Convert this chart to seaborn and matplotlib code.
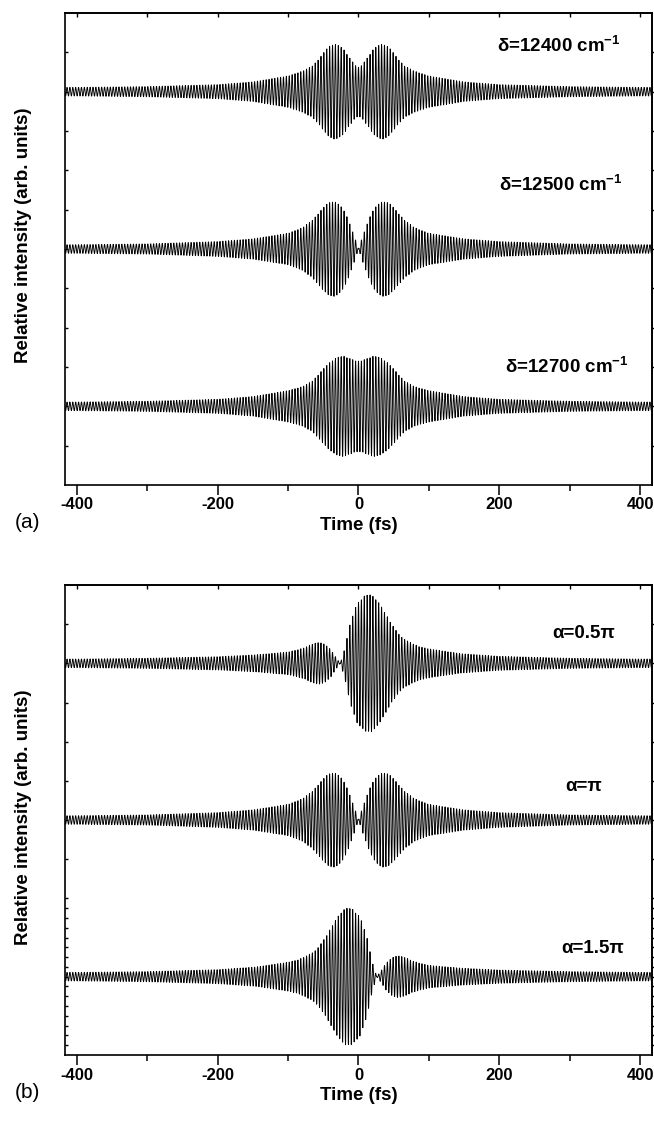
import numpy as np
import matplotlib
matplotlib.use("Agg")
import matplotlib.pyplot as plt
import seaborn as sns

sns.set_theme(style="ticks")
plt.rcParams['font.family'] = ['Liberation Sans', 'DejaVu Sans']
plt.rcParams['mathtext.fontset'] = 'custom'
plt.rcParams['mathtext.rm'] = 'Liberation Sans'
plt.rcParams['mathtext.bf'] = 'Liberation Sans:bold'
for key in ["text.color", "axes.labelcolor", "xtick.color", "ytick.color", "axes.edgecolor"]:
    plt.rcParams[key] = "black"

# carrier period as it shows up in the picture (fs)
carrier_period = 4.1

# envelope half-amplitudes, in axis units
knots_t = [-417, -400, -300, -200, -150, -100, -80, -65, -55, -45, -35, -25, -20,
           -15, -10, -5, 0, 5, 10, 15, 20, 25, 35, 45, 55, 65, 80, 100, 150,
           200, 300, 400, 417]

env_12400 = [0.11, 0.11, 0.13, 0.18, 0.25, 0.40, 0.52, 0.66, 0.86, 1.10, 1.22, 1.15, 1.05,
             0.92, 0.80, 0.68, 0.62, 0.68, 0.80, 0.92, 1.05, 1.15, 1.22, 1.10, 0.86, 0.66,
             0.52, 0.40, 0.25, 0.18, 0.13, 0.11, 0.11]
env_12500 = [0.11, 0.11, 0.13, 0.19, 0.26, 0.40, 0.54, 0.74, 0.95, 1.15, 1.22, 1.10, 0.95,
             0.78, 0.52, 0.28, 0.00, 0.28, 0.52, 0.78, 0.95, 1.10, 1.22, 1.15, 0.95, 0.74,
             0.54, 0.40, 0.26, 0.19, 0.13, 0.11, 0.11]
env_12700 = [0.11, 0.11, 0.13, 0.18, 0.25, 0.40, 0.50, 0.65, 0.85, 1.05, 1.20, 1.28, 1.27,
             1.24, 1.20, 1.17, 1.15, 1.17, 1.20, 1.24, 1.27, 1.28, 1.20, 1.05, 0.85, 0.65,
             0.50, 0.40, 0.25, 0.18, 0.13, 0.11, 0.11]

knots_b = [-417, -400, -300, -200, -145, -100, -86, -75, -68, -56, -47, -39, -32, -26,
           -20, -12, -3, 8, 17, 27, 36, 45, 53, 62, 75, 86, 100, 145, 200, 300, 400, 417]
env_05pi = [0.11, 0.11, 0.13, 0.17, 0.22, 0.29, 0.35, 0.41, 0.48, 0.54, 0.48, 0.34, 0.15, 0.00,
            0.35, 1.00, 1.50, 1.72, 1.77, 1.60, 1.35, 1.06, 0.85, 0.65, 0.52, 0.43, 0.37,
            0.25, 0.18, 0.13, 0.11, 0.11]
env_15pi = env_05pi[::-1]
knots_b15 = [-v for v in knots_b[::-1]]

panel_a = [("δ=12400 cm$^{\\mathbf{-1}}$", knots_t, env_12400, 10),
           ("δ=12500 cm$^{\\mathbf{-1}}$", knots_t, env_12500, 6),
           ("δ=12700 cm$^{\\mathbf{-1}}$", knots_t, env_12700, 2)]
panel_b = [("α=0.5π", knots_b, env_05pi, 10),
           ("α=π", knots_t, env_12500, 6),
           ("α=1.5π", knots_b15, env_15pi, 2)]
label_pos_a = [(284, 11.18), (287, 7.64), (296, 3.0)]
label_pos_b = [(320, 10.77), (320, 6.85), (332, 2.73)]

t = np.arange(-417, 417, 0.25)
carrier = np.cos(2 * np.pi * t / carrier_period)

fig = plt.figure(figsize=(6.54, 11.21), dpi=100)
ax_a = fig.add_axes([65 / 654, 1 - 485 / 1121, 587 / 654, 472 / 1121])
ax_b = fig.add_axes([65 / 654, 1 - 1055 / 1121, 587 / 654, 470 / 1121])


def draw(ax, traces, label_pos, tag, tag_y, ylab_y, dense_minor):
    for (name, kt, ke, base), (lx, ly) in zip(traces, label_pos):
        env = np.interp(t, kt, ke)
        sns.lineplot(x=t, y=base + env * carrier, ax=ax, color="black",
                     linewidth=0.65, estimator=None, sort=False)
        ax.text(lx, ly, name, ha="center", va="center", fontsize=13.5,
                fontweight="bold")
    ax.set_xlim(-417, 417)
    ax.set_ylim(0, 12)
    for s in ax.spines.values():
        s.set_linewidth(1.2)
        s.set_visible(True)
    ax.set_xticks([-400, -200, 0, 200, 400])
    ax.set_xticklabels(["-400", "-200", "0", "200", "400"], fontweight="bold",
                       fontsize=12)
    ax.set_xticks([-300, -100, 100, 300], minor=True)
    ax.tick_params(axis="x", which="major", direction="out", length=7, width=1.1,
                   pad=2)
    ax.tick_params(axis="x", which="minor", direction="out", length=4, width=1.1)
    ax.set_yticks(range(1, 12))
    ax.set_yticklabels([])
    if dense_minor:
        ax.set_yticks(np.arange(0.25, 4.0, 0.25), minor=True)
    ax.tick_params(axis="y", which="both", direction="in", length=2.5, width=1.0)
    top = ax.secondary_xaxis("top")
    top.set_xticks(range(-400, 401, 100))
    top.tick_params(direction="in", length=3, width=1.0, labeltop=False)
    right = ax.secondary_yaxis("right")
    right.set_yticks(range(1, 12))
    if dense_minor:
        right.set_yticks(np.arange(0.25, 4.0, 0.25), minor=True)
    right.tick_params(which="both", direction="out", length=2, width=1.0,
                      labelright=False)
    ax.set_xlabel("Time (fs)", fontsize=13.5, fontweight="bold", labelpad=3)
    ax.set_ylabel("Relative intensity (arb. units)", fontsize=13.5,
                  fontweight="bold", va="center")
    ax.yaxis.set_label_coords(-0.07, ylab_y)
    fig.text(15 / 654, 1 - tag_y / 1121, tag, ha="left", va="center", fontsize=15)


draw(ax_a, panel_a, label_pos_a, "(a)", 522, 0.53, False)
draw(ax_b, panel_b, label_pos_b, "(b)", 1093, 0.505, True)

fig.savefig("out.png", dpi=100)
